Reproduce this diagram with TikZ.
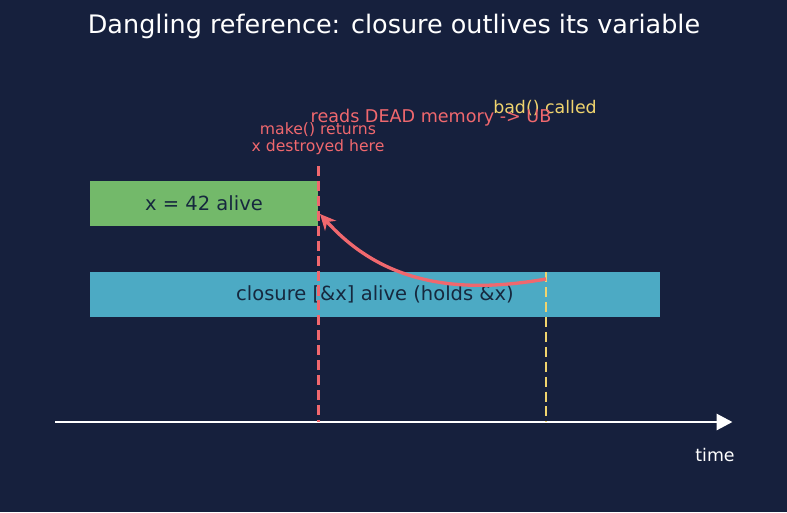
\documentclass[tikz,border=0pt]{standalone}
\usepackage{fontspec}
\setmainfont{DejaVu Sans}
\usepackage{xcolor}
\definecolor{bgnavy}{RGB}{22,32,61}
\definecolor{lifegreen}{RGB}{115,185,106}
\definecolor{lifeblue}{RGB}{76,170,196}
\definecolor{deadred}{RGB}{240,104,110}
\definecolor{callyellow}{RGB}{240,212,110}
\definecolor{boxtext}{RGB}{22,40,62}
\usetikzlibrary{arrows.meta,positioning,calc}

\begin{document}
\begin{tikzpicture}[
  life/.style={rectangle, minimum height=0.9cm, inner sep=0pt,
               font=\fontsize{11.1}{13}\selectfont, text=boxtext},
  evline/.style={line width=1.6pt, dash pattern=on 5.7pt off 2.8pt},
  lbl/.style={font=\fontsize{9.9}{12}\selectfont, align=center},
  farr/.style={-{Stealth[length=9pt,width=8.5pt]}, line width=1.9pt, draw=deadred}
]
% Background
\fill[bgnavy] (0,0) rectangle (15.74,10.24);
\useasboundingbox (0,0) rectangle (15.74,10.24);

% Title
\node[text=white, font=\fontsize{14.5}{17}\selectfont] (title) at (7.88,9.72)
  {Dangling reference: closure outlives its variable};

% Lifetimes
\node[life, fill=lifegreen, minimum width=4.56cm] (xvar) at (4.08,6.17) {x = 42 alive};
\node[life, fill=lifeblue, minimum width=11.4cm] (clos) at (7.5,4.35) {closure [\&x] alive (holds \&x)};

% Time axis
\coordinate (t0) at (1.1,1.8);
\coordinate (t1) at (14.65,1.8);
\draw[-{Triangle[length=9pt,width=9pt]}, white, line width=1.7pt] (t0) -- (t1);
\node[text=white, lbl] (time) at (14.3,1.14) {time};

% Events
\coordinate (ret)  at (xvar.east |- 0,6.92);
\coordinate (retT) at (xvar.east |- t0);
\coordinate (call) at (10.92,4.8);
\coordinate (callT) at (call |- t0);
\draw[evline, draw=deadred]    (ret)  -- (retT);
\draw[evline, draw=callyellow] (call) -- (callT);

\node[lbl, text=deadred, font=\fontsize{8.9}{9.7}\selectfont] (retlbl) at (6.36,7.46)
  {make() returns\\x destroyed here};
\node[lbl, text=callyellow] (calllbl) at (10.9,8.08) {bad() called};

% Dangling access
\draw[farr] (10.92,4.66) to[out=190, in=-48] (6.40,5.96);
\node[lbl, text=deadred, font=\fontsize{10}{12}\selectfont] (dead) at (8.62,7.89)
  {reads DEAD memory -> UB};
\end{tikzpicture}
\end{document}
